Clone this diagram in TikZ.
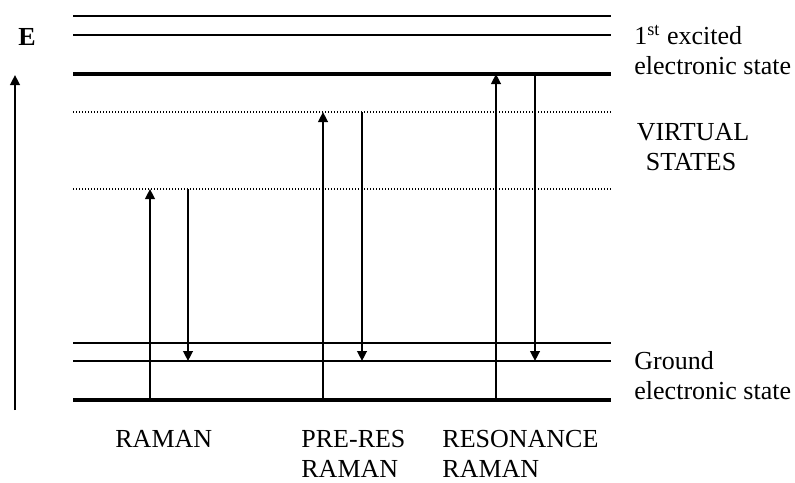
\documentclass[tikz,border=0pt]{standalone}
\usepackage{fontspec}
\setmainfont{Liberation Serif}
\usetikzlibrary{arrows.meta}
\begin{document}
\begin{tikzpicture}[x=0.5pt,y=-0.5pt,
  lvl/.style={line width=1.1pt},
  lvlthick/.style={line width=2.3pt},
  virt/.style={line width=0.65pt,dash pattern=on 0.55pt off 0.95pt},
  trans/.style={line width=1.1pt,-{Triangle[length=5pt,width=4.8pt]}},
  lbl/.style={font=\fontsize{13}{15}\selectfont,inner sep=0pt}]
\useasboundingbox (0,0) rectangle (795,482);
% energy levels
\coordinate (e1l) at (73,16);  \coordinate (e1r) at (611,16);
\coordinate (e2l) at (73,35);  \coordinate (e2r) at (611,35);
\coordinate (e0l) at (73,74);  \coordinate (e0r) at (611,74);
\coordinate (v2l) at (73,112); \coordinate (v2r) at (611,112);
\coordinate (v1l) at (73,189); \coordinate (v1r) at (611,189);
\coordinate (g2l) at (73,343); \coordinate (g2r) at (611,343);
\coordinate (g1l) at (73,361); \coordinate (g1r) at (611,361);
\coordinate (g0l) at (73,400); \coordinate (g0r) at (611,400);
\draw[lvl] (e1l) -- (e1r);
\draw[lvl] (e2l) -- (e2r);
\draw[lvlthick] (e0l) -- (e0r);
\draw[virt] (v2l) -- (v2r);
\draw[virt] (v1l) -- (v1r);
\draw[lvl] (g2l) -- (g2r);
\draw[lvl] (g1l) -- (g1r);
\draw[lvlthick] (g0l) -- (g0r);
% energy axis
\coordinate (ax0) at (15,410); \coordinate (ax1) at (15,75);
\draw[trans] (ax0) -- (ax1);
\node[lbl,font=\fontsize{13}{15}\selectfont\bfseries,anchor=base] (E) at (27,45) {E};
% transitions
\coordinate (r1a) at (150,400); \coordinate (r1b) at (150,189);
\coordinate (r2a) at (188,189); \coordinate (r2b) at (188,361);
\coordinate (p1a) at (323,400); \coordinate (p1b) at (323,112);
\coordinate (p2a) at (362,112); \coordinate (p2b) at (362,361);
\coordinate (s1a) at (496,400); \coordinate (s1b) at (496,74);
\coordinate (s2a) at (535,74);  \coordinate (s2b) at (535,361);
\draw[trans] (r1a) -- (r1b);
\draw[trans] (r2a) -- (r2b);
\draw[trans] (p1a) -- (p1b);
\draw[trans] (p2a) -- (p2b);
\draw[trans] (s1a) -- (s1b);
\draw[trans] (s2a) -- (s2b);
% labels
\node[lbl,anchor=base west] (ex1) at (634,44) {1\textsuperscript{st} excited};
\node[lbl,anchor=base west] (ex2) at (634,74) {electronic state};
\node[lbl,anchor=base] (vs1) at (693,140) {VIRTUAL};
\node[lbl,anchor=base] (vs2) at (691,170) {STATES};
\node[lbl,anchor=base west] (gr1) at (634,369) {Ground};
\node[lbl,anchor=base west] (gr2) at (634,399) {electronic state};
\node[lbl,anchor=base west] (lr) at (115,447) {RAMAN};
\node[lbl,anchor=base west] (lp1) at (301,447) {PRE-RES};
\node[lbl,anchor=base west] (lp2) at (301,477) {RAMAN};
\node[lbl,anchor=base west] (ls1) at (442,447) {RESONANCE};
\node[lbl,anchor=base west] (ls2) at (442,477) {RAMAN};
\end{tikzpicture}
\end{document}
